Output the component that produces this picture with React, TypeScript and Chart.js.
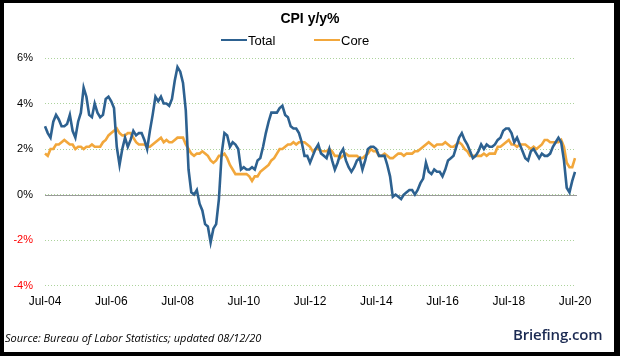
import React, { useEffect, useRef } from "react";
import { Chart, registerables } from "chart.js";

Chart.register(...registerables);

const START_YEAR = 2004;
const START_MONTH = 6; // July (0-based)
const MONTHS = ["Jan", "Feb", "Mar", "Apr", "May", "Jun", "Jul", "Aug", "Sep", "Oct", "Nov", "Dec"];

// CPI y/y % (Total), Jul-2004 .. Jul-2020
const totalCpi: number[] = [
  3.0, 2.7, 2.5, 3.2, 3.5, 3.3,
  3.0, 3.0, 3.1, 3.5, 2.8, 2.5, 3.2, 3.6, 4.7, 4.3, 3.5, 3.4,
  4.0, 3.6, 3.4, 3.5, 4.2, 4.3, 4.1, 3.8, 2.1, 1.3, 2.0, 2.5,
  2.1, 2.4, 2.8, 2.6, 2.7, 2.7, 2.4, 2.0, 2.8, 3.5, 4.3, 4.1,
  4.3, 4.0, 4.0, 3.9, 4.2, 5.0, 5.6, 5.4, 4.9, 3.7, 1.1, 0.1,
  0.0, 0.2, -0.4, -0.7, -1.3, -1.4, -2.1, -1.5, -1.3, -0.2, 1.8, 2.7,
  2.6, 2.1, 2.3, 2.2, 2.0, 1.1, 1.2, 1.1, 1.1, 1.2, 1.1, 1.5,
  1.6, 2.1, 2.7, 3.2, 3.6, 3.6, 3.6, 3.8, 3.9, 3.5, 3.4, 3.0,
  2.9, 2.9, 2.7, 2.3, 1.7, 1.7, 1.4, 1.7, 2.0, 2.2, 1.8, 1.7,
  1.6, 2.0, 1.5, 1.1, 1.4, 1.8, 2.0, 1.5, 1.2, 1.0, 1.2, 1.5,
  1.6, 1.1, 1.5, 2.0, 2.1, 2.1, 2.0, 1.7, 1.7, 1.7, 1.3, 0.8,
  -0.1, 0.0, -0.1, -0.2, 0.0, 0.1, 0.2, 0.2, 0.0, 0.2, 0.5, 0.7,
  1.4, 1.0, 0.9, 1.1, 1.0, 1.0, 0.8, 1.1, 1.5, 1.6, 1.7, 2.1,
  2.5, 2.7, 2.4, 2.2, 1.9, 1.6, 1.7, 1.9, 2.2, 2.0, 2.2, 2.1,
  2.1, 2.2, 2.4, 2.5, 2.8, 2.9, 2.9, 2.7, 2.3, 2.5, 2.2, 1.9,
  1.6, 1.5, 1.9, 2.0, 1.8, 1.6, 1.8, 1.7, 1.7, 1.8, 2.1, 2.3,
  2.5, 2.3, 1.5, 0.3, 0.1, 0.6, 1.0,
];

// Core CPI y/y %, Jul-2004 .. Jul-2020
const coreCpi: number[] = [
  1.8, 1.7, 2.0, 2.0, 2.2, 2.2,
  2.3, 2.4, 2.3, 2.2, 2.2, 2.0, 2.1, 2.1, 2.0, 2.1, 2.1, 2.2,
  2.1, 2.1, 2.1, 2.3, 2.4, 2.6, 2.7, 2.8, 2.9, 2.7, 2.6, 2.6,
  2.7, 2.7, 2.5, 2.3, 2.2, 2.2, 2.2, 2.1, 2.1, 2.2, 2.3, 2.4,
  2.5, 2.3, 2.4, 2.3, 2.3, 2.4, 2.5, 2.5, 2.5, 2.2, 2.0, 1.8,
  1.7, 1.8, 1.8, 1.9, 1.8, 1.7, 1.5, 1.4, 1.5, 1.7, 1.7, 1.8,
  1.6, 1.3, 1.1, 0.9, 0.9, 0.9, 0.9, 0.9, 0.8, 0.6, 0.8, 0.8,
  1.0, 1.1, 1.2, 1.3, 1.5, 1.6, 1.8, 2.0, 2.0, 2.1, 2.2, 2.2,
  2.3, 2.2, 2.3, 2.3, 2.3, 2.2, 2.1, 1.9, 2.0, 2.0, 1.9, 1.9,
  1.9, 2.0, 1.9, 1.7, 1.7, 1.6, 1.7, 1.8, 1.7, 1.7, 1.7, 1.7,
  1.6, 1.6, 1.7, 1.8, 2.0, 1.9, 1.9, 1.7, 1.7, 1.8, 1.7, 1.6,
  1.6, 1.7, 1.8, 1.8, 1.7, 1.8, 1.8, 1.8, 1.9, 1.9, 2.0, 2.1,
  2.2, 2.3, 2.2, 2.1, 2.2, 2.2, 2.2, 2.3, 2.2, 2.1, 2.1, 2.2,
  2.3, 2.2, 2.0, 1.9, 1.7, 1.7, 1.7, 1.7, 1.7, 1.8, 1.7, 1.8,
  1.8, 1.8, 2.1, 2.1, 2.2, 2.3, 2.4, 2.2, 2.2, 2.1, 2.2, 2.2,
  2.2, 2.1, 2.0, 2.1, 2.0, 2.1, 2.2, 2.4, 2.4, 2.3, 2.3, 2.3,
  2.3, 2.4, 2.1, 1.4, 1.2, 1.2, 1.6,
];

const monthLabels: string[] = totalCpi.map((_, i) => {
  const m = (START_MONTH + i) % 12;
  const y = START_YEAR + Math.floor((START_MONTH + i) / 12);
  return `${MONTHS[m]}-${String(y % 100).padStart(2, "0")}`;
});

const seriesNames = ["Total", "Core"];
const seriesColors = ["#2d6190", "#f2a73b"];

const TICK_EVERY = 24;
const Y_MIN = -4;
const Y_MAX = 6;
const Y_STEP = 2;

const FONT = "'Liberation Sans', Arial, sans-serif";

const zeroLinePlugin = {
  id: "zeroLine",
  beforeDatasetsDraw(chart: any) {
    const { ctx, chartArea, scales } = chart;
    const y = Math.round(scales.y.getPixelForValue(0)) + 0.5;
    ctx.save();
    ctx.strokeStyle = "#9a9a9a";
    ctx.lineWidth = 1;
    ctx.beginPath();
    ctx.moveTo(chartArea.left, y);
    ctx.lineTo(chartArea.right + 2, y);
    ctx.stroke();
    ctx.restore();
  },
};

export default function App() {
  const canvasRef = useRef<HTMLCanvasElement | null>(null);

  useEffect(() => {
    document.body.style.margin = "0";
    const canvas = canvasRef.current;
    if (!canvas) return;
    const chart = new Chart(canvas, {
      type: "line",
      data: {
        labels: monthLabels,
        datasets: [
          {
            label: seriesNames[0],
            data: totalCpi,
            borderColor: seriesColors[0],
            backgroundColor: seriesColors[0],
            borderWidth: 2.6,
            pointRadius: 0,
            tension: 0,
          },
          {
            label: seriesNames[1],
            data: coreCpi,
            borderColor: seriesColors[1],
            backgroundColor: seriesColors[1],
            borderWidth: 2.6,
            pointRadius: 0,
            tension: 0,
          },
        ],
      },
      options: {
        animation: false,
        responsive: false,
        maintainAspectRatio: false,
        layout: { padding: { top: 58, left: 0, right: 45, bottom: 38 } },
        plugins: {
          legend: { display: false },
          title: { display: false },
          tooltip: { enabled: false },
        },
        scales: {
          x: {
            type: "category",
            offset: false,
            grid: { display: false, drawTicks: false },
            border: { display: false },
            ticks: {
              autoSkip: false,
              maxRotation: 0,
              minRotation: 0,
              padding: 9,
              color: "#000",
              font: { family: FONT, size: 12 },
              callback(value: any, index: number) {
                return index % TICK_EVERY === 0 ? monthLabels[index] : null;
              },
            },
          },
          y: {
            min: Y_MIN,
            max: Y_MAX,
            afterFit(scale: any) {
              scale.width = 45;
            },
            border: { display: false, dash: [1, 2] },
            grid: {
              drawTicks: false,
              color: "#acd39c",
              lineWidth: 1,
            },
            ticks: {
              stepSize: Y_STEP,
              padding: 12,
              font: { family: FONT, size: 11 },
              color: (ctx: any) => (ctx.tick && ctx.tick.value < 0 ? "#ff0000" : "#000"),
              callback(value: any) {
                return `${value}%`;
              },
            },
          },
        },
      },
      plugins: [zeroLinePlugin],
    });
    return () => chart.destroy();
  }, []);

  const legendItem = (name: string, color: string, left: number) => (
    <div
      key={name}
      style={{ position: "absolute", left, top: 32, height: 16, display: "flex", alignItems: "center" }}
    >
      <div style={{ width: 26, height: 2.5, background: color, marginRight: 1 }} />
      <span style={{ fontFamily: FONT, fontSize: 13, color: "#000" }}>{name}</span>
    </div>
  );

  return (
    <div
      style={{
        position: "absolute",
        left: 0,
        top: 0,
        width: 620,
        height: 356,
        background: "#fff",
        overflow: "hidden",
      }}
    >
      <canvas ref={canvasRef} width={620} height={356} style={{ position: "absolute", left: 0, top: 0 }} />
      <div
        style={{
          position: "absolute",
          left: 0,
          top: 10,
          width: 620,
          textAlign: "center",
          fontFamily: FONT,
          fontWeight: "bold",
          fontSize: 14,
          color: "#000",
        }}
      >
        CPI y/y%
      </div>
      {legendItem(seriesNames[0], seriesColors[0], 221)}
      {legendItem(seriesNames[1], seriesColors[1], 314)}
      <div
        style={{
          position: "absolute",
          left: 5,
          top: 330,
          fontFamily: "'Open Sans', 'Liberation Sans', sans-serif",
          fontStyle: "italic",
          fontSize: 11,
          color: "#000",
          whiteSpace: "nowrap",
        }}
      >
        Source: Bureau of Labor Statistics; updated 08/12/20
      </div>
      <div
        style={{
          position: "absolute",
          left: 513,
          top: 324,
          fontFamily: "'Open Sans', 'Liberation Sans', sans-serif",
          fontWeight: 600,
          fontSize: 15,
          color: "#1b2a52",
          whiteSpace: "nowrap",
          letterSpacing: -0.2,
        }}
      >
        Briefing.com
      </div>
      <div
        style={{
          position: "absolute",
          left: 0,
          top: 0,
          width: 620,
          height: 356,
          boxSizing: "border-box",
          borderStyle: "solid",
          borderColor: "#000",
          borderWidth: "3px 6px 4px 4px",
          pointerEvents: "none",
        }}
      />
    </div>
  );
}
